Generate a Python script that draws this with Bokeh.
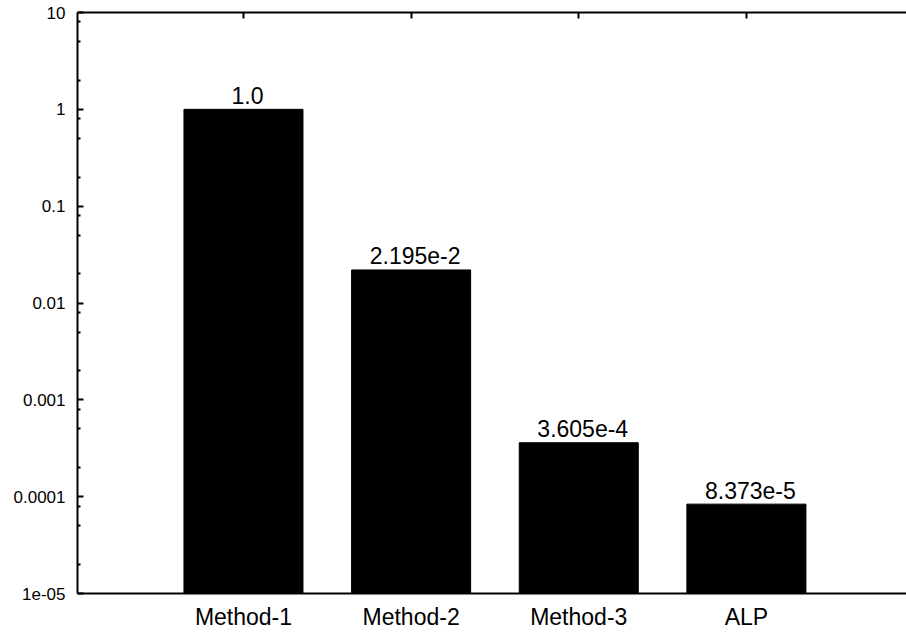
from bokeh.plotting import figure
from bokeh.models import Range1d, FixedTicker, LinearAxis, ColumnDataSource
from bokeh.core.properties import value
from bokeh.embed import file_html
from bokeh.resources import INLINE

categories = ["Method-1", "Method-2", "Method-3", "ALP"]
values = [1.0, 2.195e-2, 3.605e-4, 8.373e-5]
value_labels = ["1.0", "2.195e-2", "3.605e-4", "8.373e-5"]
y_ticks = [1e-05, 1e-04, 1e-03, 1e-02, 1e-01, 1.0, 10.0]
y_tick_labels = ["1e-05", "0.0001", "0.001", "0.01", "0.1", "1", "10"]

FONT = "Liberation Sans"
xs = list(range(1, len(categories) + 1))

p = figure(width=906, height=633, y_axis_type="log",
           x_range=Range1d(0.01, 4.955), y_range=Range1d(1e-05, 10),
           output_backend="svg", toolbar_location=None,
           min_border_left=77, min_border_right=0, min_border_top=12, min_border_bottom=40)
p.outline_line_color = None
p.grid.visible = False
p.background_fill_color = "white"
p.border_fill_color = "white"

src = ColumnDataSource(dict(x=xs, top=values, lab=value_labels, cat=categories))
p.vbar(x="x", top="top", bottom=1e-05, width=0.71, source=src,
       fill_color="black", line_color="black")
p.text(x="x", y="top", text="lab", source=src, text_align="center",
       text_baseline="alphabetic", y_offset=-14, x_offset=4,
       text_font=value(FONT), text_font_size="23px", text_color="black")

minor = []
for d in y_ticks[:-1]:
    minor += [2 * d, 5 * d, 8 * d]

ya = p.yaxis[0]
ya.ticker = FixedTicker(ticks=y_ticks, minor_ticks=minor)
ya.major_label_overrides = {t: l for t, l in zip(y_ticks, y_tick_labels)}
ya.major_label_text_font = FONT
ya.major_label_text_font_size = "17px"
ya.major_label_text_color = "black"
ya.major_tick_in = 6
ya.major_tick_out = 0
ya.minor_tick_in = 3
ya.minor_tick_out = 0
ya.major_label_standoff = 12
ya.axis_line_width = 2
ya.major_tick_line_width = 2
ya.minor_tick_line_width = 2

xa = p.xaxis[0]
xa.ticker = FixedTicker(ticks=xs, minor_ticks=[])
xa.major_label_overrides = {x: c for x, c in zip(xs, categories)}
xa.major_label_text_font = FONT
xa.major_label_text_font_size = "23px"
xa.major_label_text_color = "black"
xa.major_tick_in = 6
xa.major_tick_out = 0
xa.major_label_standoff = 10
xa.axis_line_width = 2
xa.major_tick_line_width = 2

top = LinearAxis(ticker=FixedTicker(ticks=xs, minor_ticks=[]))
top.major_label_overrides = {x: "" for x in xs}
top.major_label_standoff = 0
top.major_tick_in = 6
top.major_tick_out = 0
top.axis_line_width = 2
top.major_tick_line_width = 2
p.add_layout(top, "above")

open("out.html", "w").write(file_html(p, INLINE))
